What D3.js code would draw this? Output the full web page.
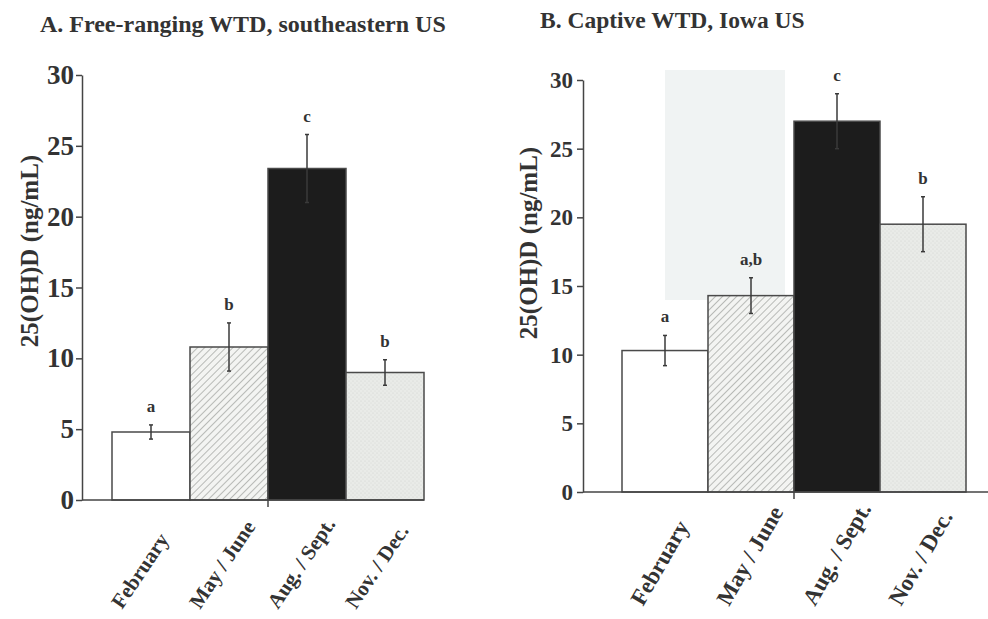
<!DOCTYPE html>
<html>
<head>
<meta charset="utf-8">
<style>
    body {
        margin: 0;
        background: #fff;
        font-family: 'Liberation Serif', 'Times New Roman', serif;
    }
    svg { display: block; }
    .title { font-weight: bold; fill: #333; }
    .y-title { font-size: 25px; font-weight: bold; fill: #333; }
    .axis .domain { stroke: #444; stroke-width: 1.5; }
    .axis .tick line { stroke: #444; stroke-width: 1.5; }
    .axis .tick text { font-family: 'Liberation Serif', serif; font-weight: bold; fill: #333; }
    .x-label { font-weight: bold; fill: #333; }
    .letter { font-size: 17px; font-weight: bold; fill: #333; }
</style>
</head>
<body>
<svg width="988" height="619"></svg>

<script src="https://d3js.org/d3.v7.min.js"></script>
<script>
    // data
    let months = ["February", "May / June", "Aug. / Sept.", "Nov. / Dec."]
    let yTicks = [0, 5, 10, 15, 20, 25, 30]

    let freeMeans = [4.8, 10.8, 23.4, 9.0]
    let freeErr = [0.5, 1.7, 2.4, 0.9]
    let freeLetters = ["a", "b", "c", "b"]

    let captiveMeans = [10.3, 14.3, 27.0, 19.5]
    let captiveErr = [1.1, 1.3, 2.0, 2.0]
    let captiveLetters = ["a", "a,b", "c", "b"]

    let svg = d3.select("svg")

    // fill patterns
    let defs = svg.append("defs")
    let hatch = defs.append("pattern")
        .attr("id", "hatch")
        .attr("patternUnits", "userSpaceOnUse")
        .attr("width", 5)
        .attr("height", 5)
        .attr("patternTransform", "rotate(45)")
    hatch.append("rect").attr("width", 5).attr("height", 5).attr("fill", "#f3f4f2")
    hatch.append("line")
        .attr("x1", 0).attr("y1", 0).attr("x2", 0).attr("y2", 5)
        .attr("stroke", "#a9aba8").attr("stroke-width", 1.6)

    let stipple = defs.append("pattern")
        .attr("id", "stipple")
        .attr("patternUnits", "userSpaceOnUse")
        .attr("width", 4)
        .attr("height", 4)
    stipple.append("rect").attr("width", 4).attr("height", 4).attr("fill", "#e9ebe8")
    stipple.append("circle").attr("cx", 1).attr("cy", 1).attr("r", 0.6).attr("fill", "#cfd2ce")
    stipple.append("circle").attr("cx", 3).attr("cy", 3).attr("r", 0.6).attr("fill", "#d6d9d5")

    let fills = ["#ffffff", "url(#hatch)", "#1c1c1c", "url(#stipple)"]

    // faint scan shading behind panel B
    svg.append("rect")
        .attr("x", 665).attr("y", 70)
        .attr("width", 120).attr("height", 230)
        .attr("fill", "#f0f3f3")

    function panel(opt) {
        let g = svg.append("g")

        let x = d3.scaleBand()
            .domain(months)
            .range([opt.barLeft, opt.barRight])
            .padding(0)

        let y = d3.scaleLinear()
            .domain([0, 30])
            .range([opt.bottom, opt.top])

        // title
        g.append("text")
            .attr("class", "title")
            .style("font-size", opt.titleFont + "px")
            .attr("x", opt.titleX)
            .attr("y", opt.titleY)
            .text(opt.title)

        // y title
        g.append("text")
            .attr("class", "y-title")
            .attr("transform", `translate(${opt.yTitleX},${opt.yTitleY}) rotate(-90)`)
            .attr("text-anchor", "middle")
            .text("25(OH)D (ng/mL)")

        // bars
        g.selectAll("rect.bar")
            .data(opt.means)
            .join("rect")
            .attr("class", "bar")
            .attr("x", (d, i) => x(months[i]))
            .attr("y", d => y(d))
            .attr("width", x.bandwidth())
            .attr("height", d => y(0) - y(d))
            .attr("fill", (d, i) => fills[i])
            .attr("stroke", "#4a4a4a")
            .attr("stroke-width", 1.5)

        // error bars
        let eb = g.selectAll("g.err")
            .data(opt.means)
            .join("g")
            .attr("class", "err")
            .attr("transform", (d, i) => `translate(${x(months[i]) + x.bandwidth() / 2},0)`)

        eb.append("line")
            .attr("y1", (d, i) => y(d + opt.err[i]))
            .attr("y2", (d, i) => y(d - opt.err[i]))
            .attr("stroke", "#3a3a3a")
            .attr("stroke-width", 1.5)
        eb.append("line")
            .attr("x1", -2).attr("x2", 2)
            .attr("y1", (d, i) => y(d + opt.err[i]))
            .attr("y2", (d, i) => y(d + opt.err[i]))
            .attr("stroke", "#3a3a3a")
            .attr("stroke-width", 1.5)
        eb.append("line")
            .attr("x1", -2).attr("x2", 2)
            .attr("y1", (d, i) => y(d - opt.err[i]))
            .attr("y2", (d, i) => y(d - opt.err[i]))
            .attr("stroke", "#3a3a3a")
            .attr("stroke-width", 1.5)

        // significance letters
        eb.append("text")
            .attr("class", "letter")
            .attr("text-anchor", "middle")
            .attr("y", (d, i) => y(d + opt.err[i]) - 13)
            .text((d, i) => opt.letters[i])

        // y axis
        let yAxis = g.append("g")
            .attr("class", "axis")
            .attr("transform", `translate(${opt.axisX},0)`)
            .call(d3.axisLeft(y)
                .tickValues(yTicks)
                .tickSize(opt.tickSize)
                .tickPadding(opt.tickPad)
                .tickSizeOuter(0))
        yAxis.selectAll(".tick text")
            .style("font-size", opt.tickFont + "px")

        // x axis line with one centre tick
        g.append("line")
            .attr("x1", opt.axisX)
            .attr("x2", opt.axisEnd)
            .attr("y1", y(0))
            .attr("y2", y(0))
            .attr("stroke", "#444")
            .attr("stroke-width", 1.5)
        g.append("line")
            .attr("x1", x(months[2]))
            .attr("x2", x(months[2]))
            .attr("y1", y(0))
            .attr("y2", y(0) + 7)
            .attr("stroke", "#444")
            .attr("stroke-width", 1.5)

        // rotated month labels, anchored at their start
        g.selectAll("text.x-label")
            .data(months)
            .join("text")
            .attr("class", "x-label")
            .style("font-size", opt.labFont + "px")
            .attr("text-anchor", "start")
            .attr("transform", d =>
                `translate(${x(d) + x.bandwidth() / 2 + opt.labDx},${y(0) + opt.labDy}) rotate(${opt.labAngle})`)
            .text(d => d)
    }

    panel({
        title: "A. Free-ranging WTD, southeastern US",
        titleX: 40, titleY: 32, titleFont: 24,
        yTitleX: 38, yTitleY: 251,
        means: freeMeans, err: freeErr, letters: freeLetters,
        axisX: 82, axisEnd: 424,
        barLeft: 112, barRight: 424,
        top: 75, bottom: 500,
        tickSize: 6, tickPad: 2, tickFont: 27,
        labDx: -29, labDy: 110, labAngle: -56, labFont: 21
    })

    panel({
        title: "B. Captive WTD, Iowa US",
        titleX: 540, titleY: 28, titleFont: 23.5,
        yTitleX: 537, yTitleY: 243,
        means: captiveMeans, err: captiveErr, letters: captiveLetters,
        axisX: 583, axisEnd: 988,
        barLeft: 622, barRight: 966,
        top: 80, bottom: 492,
        tickSize: 6, tickPad: 4, tickFont: 23,
        labDx: -22, labDy: 115, labAngle: -60, labFont: 23
    })
</script>
</body>
</html>
